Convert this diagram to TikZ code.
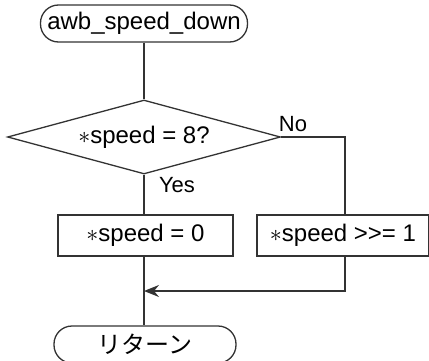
\documentclass[tikz,border=0pt]{standalone}
\usepackage{fontspec}
\setmainfont{Liberation Sans}
\newfontfamily\jpfont{Noto Sans CJK JP}
\usetikzlibrary{shapes.geometric,arrows.meta,positioning}

\tikzset{
  flowline/.style={line width=0.65pt, black!80},
  terminal/.style={draw, flowline, rounded corners=9pt, minimum width=103.5pt, minimum height=18.5pt, inner sep=0pt, font=\fontsize{12}{14}\selectfont},
  decision/.style={draw, flowline, diamond, aspect=3.7, minimum width=136.5pt, minimum height=37pt, inner sep=0pt, font=\fontsize{12}{14}\selectfont},
  process/.style={draw, flowline, minimum height=20.5pt, inner sep=0pt, font=\fontsize{12}{14}\selectfont},
  branch/.style={font=\fontsize{11}{13}\selectfont, text=black}
}

\begin{document}
\begin{tikzpicture}[x=0.5pt, y=0.5pt]
  \useasboundingbox (0,0) rectangle (429,360);

  % Start / end
  \node[terminal, text=black] (start) at (144,336.5) {awb\_speed\_down};
  \node[terminal, text=black, minimum width=91pt] (ret) at (145,15.5) {\jpfont リターン};

  % Decision
  \node[decision, text=black] (check) at (144,223) {$*$speed = 8?};
  \node[branch] (no) at (293,236) {No};
  \node[branch] (yes) at (177,175) {Yes};

  % Processes
  \node[process, text=black, minimum width=87.5pt] (zero) at (145.5,124.5) {$*$speed = 0};
  \node[process, text=black, minimum width=86pt] (shift) at (343,124.5) {$*$speed {>}{>}= 1};
  \coordinate (join) at (144,69);

  % Connectors
  \draw[flowline] (start) -- (check);
  \draw[flowline] (check.south) -- (check.south |- zero.north);
  \draw[flowline] (check.east) -| (345,0 |- shift.north);
  \draw[flowline] (check.south |- zero.south) -- (check.south |- ret.north);
  \draw[flowline, -{Stealth[length=7.5pt, width=6pt, inset=2.5pt]}] (345,0 |- shift.south) |- (join);
\end{tikzpicture}
\end{document}
